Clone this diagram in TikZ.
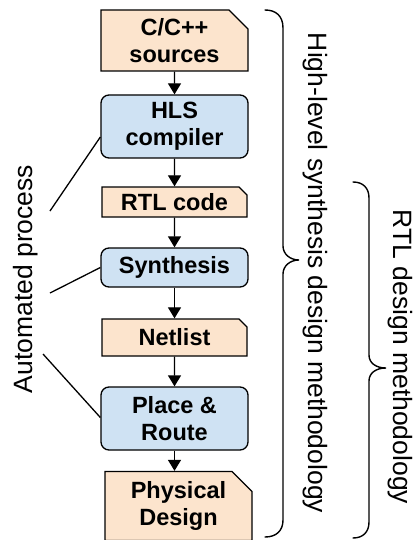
\documentclass[tikz,border=0pt]{standalone}
\usepackage{fontspec}
\setmainfont{Liberation Sans}
\usetikzlibrary{shapes.misc,arrows.meta}
\definecolor{peach}{RGB}{252,228,205}
\definecolor{lblue}{RGB}{207,226,243}
\begin{document}
\begin{tikzpicture}[x=1pt,y=-1pt,
  boxtext/.style={font=\fontsize{23.5}{27}\selectfont\bfseries, align=center, inner sep=0pt, text=black},
  datab/.style={boxtext, chamfered rectangle, chamfered rectangle corners=north east, draw=black, line width=1.3pt, fill=peach},
  procb/.style={boxtext, rectangle, rounded corners=8pt, draw=black, line width=1.3pt, fill=lblue},
  flow/.style={line width=1.3pt, -{Triangle[length=11pt,width=13pt]}},
  thinl/.style={line width=1.3pt},
  bracel/.style={line width=1.4pt, line cap=round},
  sidetext/.style={font=\fontsize{26.5}{30}\selectfont, inner sep=0pt}
]
\useasboundingbox (0,0) rectangle (414,540);
\fill[white] (0,0) rectangle (414,540);

% boxes
\node[datab, minimum width=147pt, minimum height=61pt, chamfered rectangle xsep=11pt, chamfered rectangle ysep=8pt] (src) at (174.5,40.5) {C/C++\\sources};
\node[procb, minimum width=147pt, minimum height=63pt] (hls) at (174.5,126.5) {HLS\\compiler};
\node[datab, minimum width=145pt, minimum height=30pt, chamfered rectangle xsep=4pt, chamfered rectangle ysep=4pt] (rtl) at (174.5,202) {RTL code};
\node[procb, minimum width=147pt, minimum height=39pt] (syn) at (174.5,267.5) {Synthesis};
\node[datab, minimum width=145pt, minimum height=37pt, chamfered rectangle xsep=4pt, chamfered rectangle ysep=4pt] (net) at (174.5,337.5) {Netlist};
\node[procb, minimum width=147pt, minimum height=63pt] (pnr) at (174.5,418.5) {Place \&\\Route};
\node[datab, minimum width=147pt, minimum height=62pt, chamfered rectangle xsep=10pt, chamfered rectangle ysep=10pt] (phy) at (178.5,506) {Physical\\Design};

% flow arrows
\draw[flow] (src) -- (hls);
\draw[flow] (hls) -- (rtl);
\draw[flow] (rtl) -- (syn);
\draw[flow] (syn) -- (net);
\draw[flow] (net) -- (pnr);
\draw[flow] (pnr.south) -- (pnr.south |- phy.north);

% automated process
\node[sidetext, rotate=90, anchor=base] (auto) at (32,279) {Automated process};
\coordinate (a1) at (50,211);
\coordinate (a2) at (50,293);
\coordinate (a3) at (43,354);
\draw[thinl] (a1) -- ([yshift=-10.5pt]hls.west);
\draw[thinl] (a2) -- (syn.west);
\draw[thinl] (a3) -- ([yshift=1pt]pnr.west);

% braces
\draw[bracel] (265,10) .. controls (276,10) and (283,16) .. (283,28) -- (283,246)
  .. controls (283,254) and (290,260) .. (299,260)
  .. controls (290,260) and (283,266) .. (283,274) -- (283,520)
  .. controls (283,531) and (276,537) .. (265,537);
\draw[bracel] (353,182) .. controls (363,182) and (369,188) .. (369,198) -- (369,355)
  .. controls (369,363) and (376,368) .. (386,368)
  .. controls (376,368) and (369,373) .. (369,381) -- (369,522)
  .. controls (369,532) and (363,538) .. (353,538);

\node[sidetext, rotate=-90, anchor=base] (hlsm) at (308,273) {High-level synthesis design methodology};
\node[sidetext, rotate=-90, anchor=base] (rtlm) at (393,357) {RTL design methodology};
\end{tikzpicture}
\end{document}
